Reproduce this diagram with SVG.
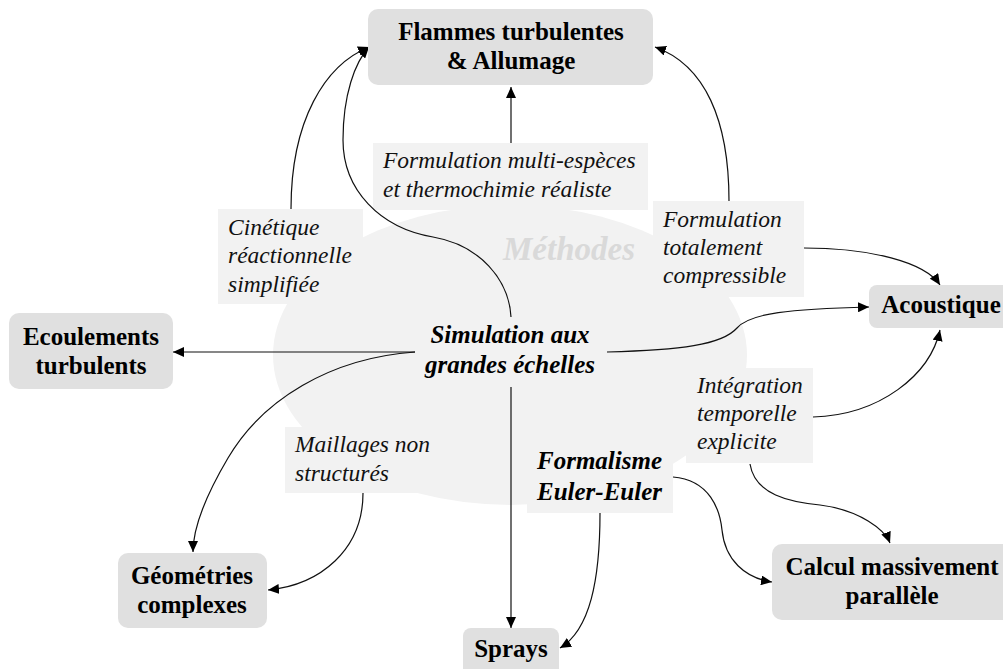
<svg xmlns="http://www.w3.org/2000/svg" width="1003" height="669" viewBox="0 0 1003 669" font-family="'Liberation Serif', 'Times New Roman', serif">
<defs>
<style>
.node rect{fill:#e0e0e0;}
.nt{font-family:'Liberation Serif','Times New Roman',serif;font-weight:bold;font-size:25px;fill:#000;text-anchor:middle;}
.lb{fill:#f2f2f2;}
.lt{font-family:'Liberation Serif','Times New Roman',serif;font-style:italic;font-size:23.5px;fill:#111;}
.ct{font-family:'Liberation Serif','Times New Roman',serif;font-style:italic;font-weight:bold;font-size:25px;fill:#000;}
.cn path{fill:none;stroke:#111;stroke-width:1.2;marker-end:url(#ah);}
</style>
<marker id="ah" markerUnits="userSpaceOnUse" markerWidth="12" markerHeight="10" refX="11" refY="5" orient="auto">
<path d="M0,0 L11,5 L0,10 z" fill="#000"/>
</marker>
</defs>
<rect width="1003" height="669" fill="#fff"/>
<g id="methodes-bg">
<ellipse cx="510" cy="355" rx="237" ry="150" fill="#f2f2f2"/>
<text x="503" y="260" style="font-family:'Liberation Serif','Times New Roman',serif;font-style:italic;font-weight:bold;font-size:33px;fill:#d9d9d9;">Méthodes</text>
</g>
<g id="label-multi">
<rect class="lb" x="373" y="143" width="275" height="67"/>
<text class="lt" x="383" y="168">Formulation multi-espèces</text>
<text class="lt" x="383" y="197">et thermochimie réaliste</text>
</g>
<g id="label-cinetique">
<rect class="lb" x="218" y="209" width="145" height="95"/>
<text class="lt" x="228" y="235">Cinétique</text>
<text class="lt" x="228" y="263">réactionnelle</text>
<text class="lt" x="228" y="292">simplifiée</text>
</g>
<g id="label-compressible">
<rect class="lb" x="653" y="201" width="151" height="96"/>
<text class="lt" x="663" y="227">Formulation</text>
<text class="lt" x="663" y="255">totalement</text>
<text class="lt" x="663" y="283">compressible</text>
</g>
<g id="label-maillages">
<rect class="lb" x="285" y="427" width="155" height="66"/>
<text class="lt" x="295" y="452">Maillages non</text>
<text class="lt" x="295" y="481">structurés</text>
</g>
<g id="label-integration">
<rect class="lb" x="686" y="368" width="127" height="95"/>
<text class="lt" x="697" y="393">Intégration</text>
<text class="lt" x="697" y="421">temporelle</text>
<text class="lt" x="697" y="449">explicite</text>
</g>
<g id="formalisme">
<rect class="lb" x="527" y="452" width="146" height="61"/>
<text class="ct" x="537" y="469">Formalisme</text>
<text class="ct" x="537" y="500">Euler-Euler</text>
</g>
<g id="simulation">
<text class="ct" x="510" y="343" text-anchor="middle">Simulation aux</text>
<text class="ct" x="510" y="373" text-anchor="middle">grandes échelles</text>
</g>
<g id="connectors" class="cn">
<path d="M511,143 L511,87"/>
<path d="M291,209 C291,120 325,65 369,47"/>
<path d="M511,317 C509,280 480,245 433,237 C380,228 343,190 343,140 C343,95 355,62 369,47"/>
<path d="M729,201 C729,120 705,65 655,47"/>
<path d="M804,248 C870,248 925,262 940,285"/>
<path d="M607,352 C680,350 722,345 737,328 C750,313 790,309 869,307"/>
<path d="M813,417 C880,415 930,375 940,330"/>
<path d="M750,464 C755,495 790,502 820,505 C860,510 885,530 890,543"/>
<path d="M673,477 C710,480 720,510 722,530 C725,560 745,578 772,582"/>
<path d="M600,513 C600,580 590,630 560,648"/>
<path d="M511,387 L511,628"/>
<path d="M415,352 L173,352"/>
<path d="M415,352 C330,358 262,400 228,458 C202,502 193,530 193,552"/>
<path d="M363,493 C363,550 320,585 268,590"/>
</g>
<g id="flammes" class="node">
<rect x="368" y="9" width="285" height="76" rx="10"/>
<text class="nt" x="511" y="40">Flammes turbulentes</text>
<text class="nt" x="511" y="69">&amp; Allumage</text>
</g>
<g id="ecoulements" class="node">
<rect x="9" y="313" width="164" height="76" rx="10"/>
<text class="nt" x="91" y="345">Ecoulements</text>
<text class="nt" x="91" y="374">turbulents</text>
</g>
<g id="acoustique" class="node">
<rect x="869" y="285" width="150" height="43" rx="8"/>
<text class="nt" x="941" y="313">Acoustique</text>
</g>
<g id="geometries" class="node">
<rect x="118" y="553" width="149" height="75" rx="10"/>
<text class="nt" x="192" y="584">Géométries</text>
<text class="nt" x="192" y="613">complexes</text>
</g>
<g id="sprays" class="node">
<rect x="463" y="628" width="96" height="50" rx="8"/>
<text class="nt" x="511" y="657">Sprays</text>
</g>
<g id="calcul" class="node">
<rect x="772" y="544" width="245" height="76" rx="10"/>
<text class="nt" x="892" y="575">Calcul massivement</text>
<text class="nt" x="892" y="604">parallèle</text>
</g>
</svg>
